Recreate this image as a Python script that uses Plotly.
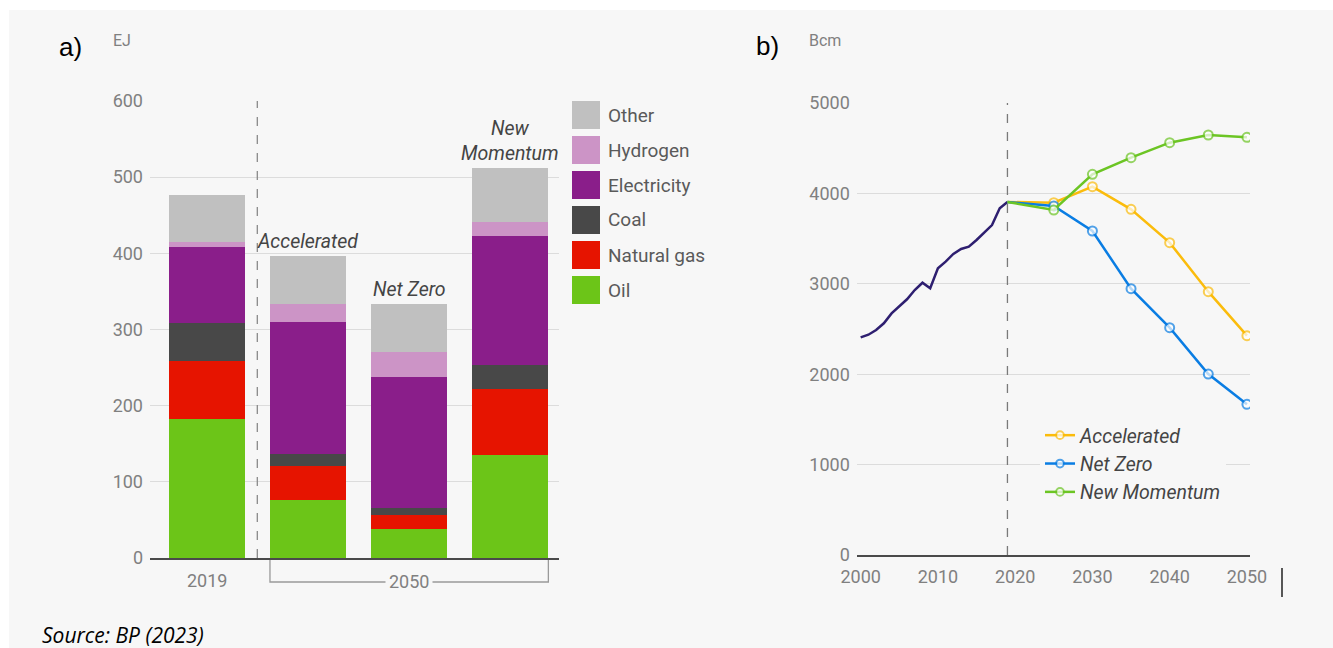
import plotly.graph_objects as go

W, H = 1333, 648

# ---------------- Data: panel a) (EJ) ----------------
categories = ["2019", "Accelerated", "Net Zero", "New Momentum"]
scenario_labels = ["", "Accelerated", "Net Zero", "New<br>Momentum"]
oil = [183, 76, 38, 135]
natural_gas = [76, 45, 19, 87]
coal = [50, 16, 9, 32]
electricity = [99, 173, 171, 169]
hydrogen = [7, 24, 34, 18]
other = [61, 62, 63, 71]

series_names = ["Oil", "Natural gas", "Coal", "Electricity", "Hydrogen", "Other"]
series_values = [oil, natural_gas, coal, electricity, hydrogen, other]
series_colors = ["#6cc518", "#e61400", "#484848", "#8a1e8a", "#cc94c6", "#c0c0c0"]
a_yticks = [0, 100, 200, 300, 400, 500, 600]
period_labels = ["2019", "2050"]

# ---------------- Data: panel b) (Bcm) ----------------
hist_years = list(range(2000, 2020))
hist_values = [2408, 2437, 2489, 2563, 2673, 2754, 2829, 2931, 3012, 2950,
               3171, 3245, 3330, 3385, 3410, 3485, 3565, 3650, 3835, 3905]
scen_years = [2019, 2025, 2030, 2035, 2040, 2045, 2050]
accelerated = [3905, 3897, 4074, 3824, 3455, 2913, 2426]
net_zero = [3905, 3861, 3584, 2946, 2515, 2002, 1667]
new_momentum = [3905, 3816, 4211, 4395, 4561, 4646, 4620]
scen_names = ["Accelerated", "Net Zero", "New Momentum"]
scen_values = [accelerated, net_zero, new_momentum]
scen_colors = ["#fbbc0c", "#0a7de3", "#6cc524"]
b_xticks = [2000, 2010, 2020, 2030, 2040, 2050]
b_yticks = [0, 1000, 2000, 3000, 4000, 5000]

BG = "#f7f7f7"
TICK = "#808080"
GRID = "#dcdcdc"
FONT = "Roboto"

def px_x(p):
    return p / W

def px_y(p):
    return 1 - p / H

fig = go.Figure()

# stacked bars
for name, vals, col in zip(series_names, series_values, series_colors):
    fig.add_trace(go.Bar(
        x=categories, y=vals, name=name, marker=dict(color=col, line=dict(width=0)),
        xaxis="x", yaxis="y", showlegend=False,
    ))

# history line
fig.add_trace(go.Scatter(
    x=hist_years, y=hist_values, mode="lines", line=dict(color="#2e1f70", width=2.5),
    xaxis="x2", yaxis="y2", showlegend=False,
))

for name, vals, col in zip(scen_names, scen_values, scen_colors):
    fig.add_trace(go.Scatter(
        x=scen_years, y=vals, mode="lines+markers", name=name,
        line=dict(color=col, width=2.5),
        marker=dict(size=[0] + [9] * (len(vals) - 1), color="white", symbol="circle",
                    line=dict(color=col, width=2)),
        xaxis="x2", yaxis="y2",
    ))

shapes = []
# gray panel background
shapes.append(dict(type="rect", xref="paper", yref="paper", x0=px_x(9), x1=1, y0=0, y1=px_y(10),
                   fillcolor=BG, line=dict(width=0), layer="below"))
# dashed separator in panel a
shapes.append(dict(type="line", xref="x", yref="y", x0=0.5, x1=0.5, y0=0, y1=600,
                   line=dict(color="#8a8a8a", width=1.3, dash="dash")))
# 2050 bracket in panel a
yb_top = px_y(560)
yb_bot = px_y(582)
shapes.append(dict(type="path", xref="x", yref="paper",
                   path=f"M 0.625,{yb_top} L 0.625,{yb_bot} L 3.375,{yb_bot} L 3.375,{yb_top}",
                   line=dict(color="#9a9a9a", width=1.3)))
# vertical line 2019 in panel b
shapes.append(dict(type="line", xref="x2", yref="y2", x0=2019, x1=2019, y0=0, y1=5000,
                   line=dict(color="#7a7a7a", width=1.3, dash="dash")))
# cursor mark
shapes.append(dict(type="line", xref="paper", yref="paper", x0=px_x(1282), x1=px_x(1282),
                   y0=px_y(568), y1=px_y(597), line=dict(color="black", width=1.3)))

annotations = []
# manual legend for panel a (top to bottom: reversed order)
for i, (name, col) in enumerate(zip(reversed(series_names), reversed(series_colors))):
    cy = 115 + 35 * i
    shapes.append(dict(type="rect", xref="paper", yref="paper",
                       x0=px_x(572), x1=px_x(600), y0=px_y(cy + 14), y1=px_y(cy - 14),
                       fillcolor=col, line=dict(width=0)))
    annotations.append(dict(text=name, xref="paper", yref="paper", x=px_x(606), y=px_y(cy),
                            xanchor="left", yanchor="middle", showarrow=False,
                            font=dict(family=FONT, size=19, color="#5a5a5a")))

# scenario labels above bars
totals = [sum(v) for v in zip(*series_values)]
for idx, (lab, tot) in enumerate(zip(scenario_labels, totals)):
    if lab:
        annotations.append(dict(text=lab, x=idx, y=tot, xref="x", yref="y",
                                xanchor="center", yanchor="bottom",
                                yshift=1, showarrow=False,
                                font=dict(family=FONT, size=19.5, color="#444444", style="italic")))

# 2019 and 2050 labels under bars (category index positions)
annotations.append(dict(text=period_labels[0], x=0, xref="x", y=px_y(580), yref="paper",
                        showarrow=False, xanchor="center", yanchor="middle",
                        font=dict(family=FONT, size=18, color=TICK)))
annotations.append(dict(text=period_labels[1], x=2, xref="x", y=px_y(581), yref="paper",
                        showarrow=False, xanchor="center", yanchor="middle", bgcolor=BG, borderpad=3,
                        font=dict(family=FONT, size=18, color=TICK)))

# panel letters and units
annotations += [
    dict(text="a)", x=px_x(70), y=px_y(47), xref="paper", yref="paper", showarrow=False,
         xanchor="center", yanchor="middle",
         font=dict(family="Liberation Sans", size=26, color="black")),
    dict(text="EJ", x=px_x(122), y=px_y(40), xref="paper", yref="paper", showarrow=False,
         xanchor="center", yanchor="middle",
         font=dict(family=FONT, size=16, color=TICK)),
    dict(text="b)", x=px_x(767), y=px_y(46), xref="paper", yref="paper", showarrow=False,
         xanchor="center", yanchor="middle",
         font=dict(family="Liberation Sans", size=26, color="black")),
    dict(text="Bcm", x=px_x(825), y=px_y(40), xref="paper", yref="paper", showarrow=False,
         xanchor="center", yanchor="middle",
         font=dict(family=FONT, size=16, color=TICK)),
    dict(text="Source: BP (2023)", x=px_x(40), y=px_y(635), xref="paper", yref="paper",
         xanchor="left", yanchor="middle", showarrow=False,
         font=dict(family="Open Sans", size=21, color="black", style="italic")),
]

fig.update_layout(
    width=W, height=H, autosize=False,
    margin=dict(l=0, r=0, t=0, b=0, pad=0, autoexpand=False),
    paper_bgcolor="white", plot_bgcolor="rgba(0,0,0,0)",
    barmode="stack", bargap=0.25,
    font=dict(family=FONT),
    xaxis=dict(domain=[px_x(150), px_x(559)], range=[-0.56, 3.48], type="category",
               showticklabels=False, showgrid=False, zeroline=False, automargin=False,
               showline=True, linecolor="#4a4a4a", linewidth=2, anchor="y", fixedrange=True),
    yaxis=dict(domain=[px_y(558), px_y(101)], range=[0, 600], tickvals=a_yticks,
               showgrid=True, gridcolor=GRID, gridwidth=1, zeroline=False, showline=False,
               tickfont=dict(family=FONT, size=18, color=TICK), ticks="", automargin=False,
               ticklabelstandoff=6, anchor="x"),
    xaxis2=dict(domain=[px_x(856.8), px_x(1250)], range=[1999.5, 2050.4], tickvals=b_xticks,
                showgrid=False, zeroline=False, showline=True, linecolor="#4a4a4a", linewidth=2,
                tickfont=dict(family=FONT, size=18, color=TICK), ticks="", automargin=False,
                ticklabelstandoff=4, anchor="y2"),
    yaxis2=dict(domain=[px_y(555), px_y(103)], range=[0, 5000], tickvals=b_yticks,
                showgrid=True, gridcolor=GRID, gridwidth=1, zeroline=False, showline=False,
                tickfont=dict(family=FONT, size=18, color=TICK), ticks="", automargin=False,
                ticklabelstandoff=6, anchor="x2"),
    legend=dict(x=px_x(1040), y=px_y(416), xanchor="left", yanchor="top", traceorder="normal",
                bgcolor=BG, borderwidth=0, tracegroupgap=0,
                font=dict(family=FONT, size=19.5, color="#444444", style="italic")),
    shapes=shapes,
    annotations=annotations,
)

fig.write_html("out.html", config={"responsive": False, "displayModeBar": False},
               post_script="document.body.style.margin='0px';document.body.style.padding='0px';")
